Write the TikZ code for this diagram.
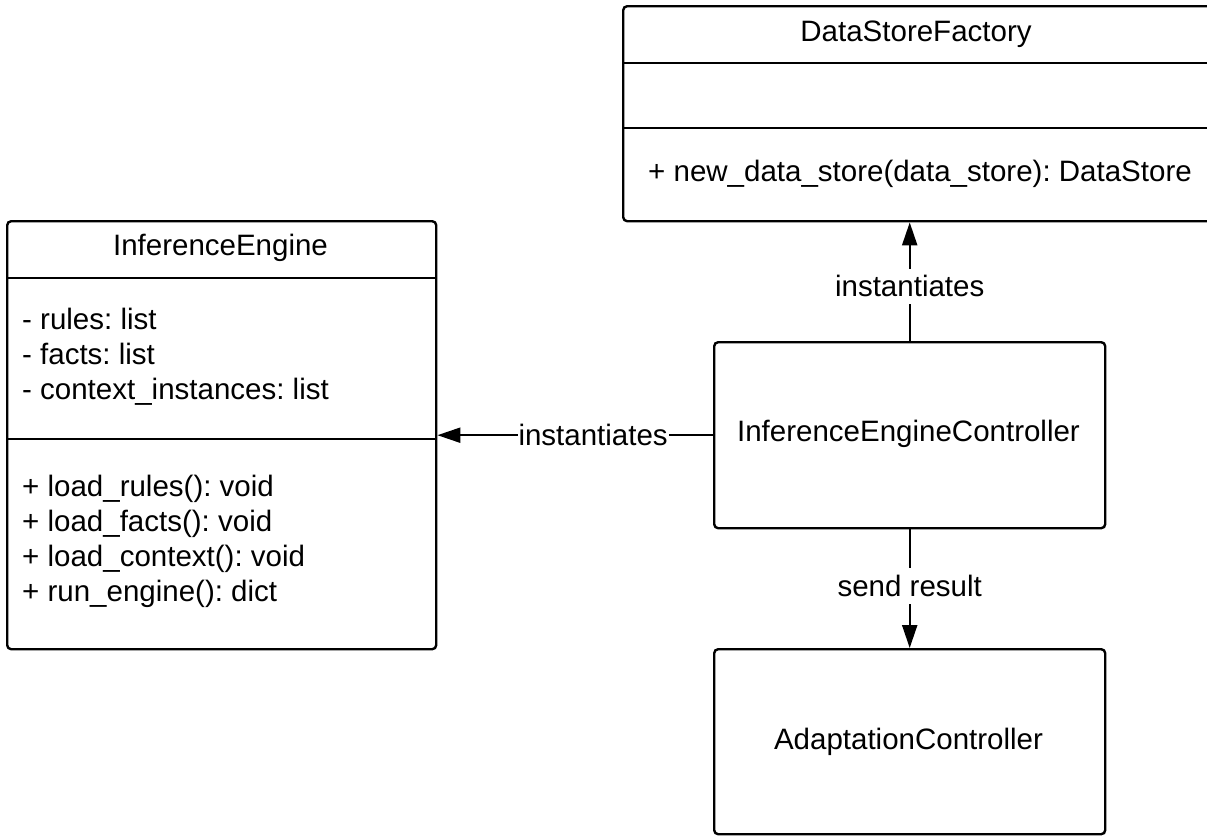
\documentclass[tikz,border=0pt]{standalone}
\usepackage{fontspec}
\setmainfont{Liberation Sans}
\usetikzlibrary{arrows.meta}
\begin{document}
\begin{tikzpicture}[x=1pt,y=-1pt,
  umlbox/.style={draw, line width=2.4pt, rounded corners=4pt, inner sep=0pt, anchor=north west},
  divider/.style={line width=2.2pt},
  txt/.style={inner sep=0pt, font=\fontsize{29.5}{35}\selectfont\frenchspacing},
  conn/.style={line width=2.2pt, -{Triangle[length=23pt,width=15pt]}},
  lbl/.style={txt, fill=white, inner xsep=1pt, inner ysep=7pt}]
\useasboundingbox (0,0) rectangle (1207,835);

% class boxes
\node[umlbox, minimum width=429pt, minimum height=428pt] (ie)  at (6,220) {};
\node[umlbox, minimum width=590pt, minimum height=215pt] (dsf) at (622,5) {};
\node[umlbox, minimum width=391pt, minimum height=186pt] (iec) at (713,341) {};
\node[umlbox, minimum width=391pt, minimum height=185pt] (ac)  at (713,648) {};

% compartment dividers
\draw[divider] (ie.west |- 0,278) -- (ie.east |- 0,278);
\draw[divider] (ie.west |- 0,439) -- (ie.east |- 0,439);
\draw[divider] (dsf.west |- 0,63) -- (dsf.east |- 0,63);
\draw[divider] (dsf.west |- 0,128) -- (dsf.east |- 0,128);

% InferenceEngine
\node[txt, anchor=base] (ietitle) at (220.5,255) {InferenceEngine};
\node[txt, anchor=base west] (iea1) at (22,329) {- rules: list};
\node[txt, anchor=base west] (iea2) at (22,364) {- facts: list};
\node[txt, anchor=base west] (iea3) at (22,399) {- context\_instances: list};
\node[txt, anchor=base west] (iem1) at (22,496.5) {+ load\_rules(): void};
\node[txt, anchor=base west] (iem2) at (22,531.5) {+ load\_facts(): void};
\node[txt, anchor=base west] (iem3) at (22,566.5) {+ load\_context(): void};
\node[txt, anchor=base west] (iem4) at (22,601.5) {+ run\_engine(): dict};

% DataStoreFactory
\node[txt, anchor=base] (dsftitle) at (916,41) {DataStoreFactory};
\node[txt, anchor=base west] (dsfm1) at (648,181) {+ new\_data\_store(data\_store): DataStore};

% controllers
\node[txt, anchor=base] (iectext) at (908.5,441) {InferenceEngineController};
\node[txt, anchor=base] (actext) at (908.5,749) {AdaptationController};

% connectors
\draw[conn] (iec.west) -- (iec.west -| ie.east) node[lbl, pos=0.435] {instantiates};
\draw[conn] (iec.north) -- (iec.north |- dsf.south) node[lbl, pos=0.46] {instantiates};
\draw[conn] (iec.south) -- (ac.north) node[lbl, pos=0.475] {send result};
\end{tikzpicture}
\end{document}
